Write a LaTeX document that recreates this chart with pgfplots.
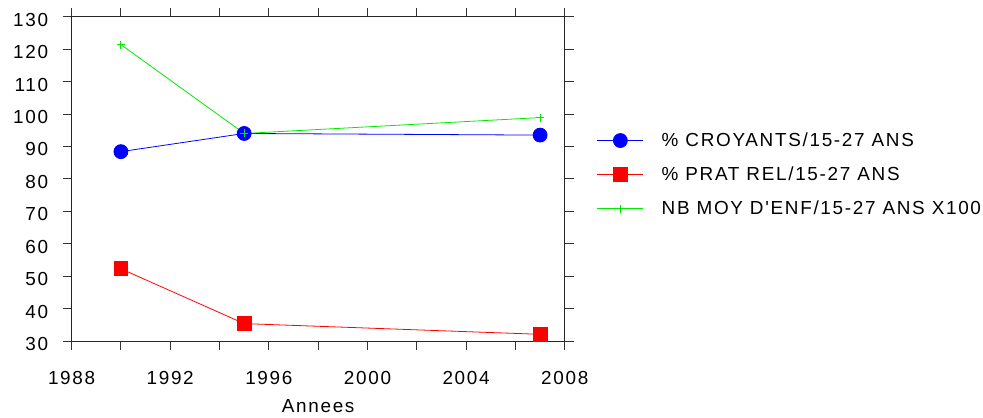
\documentclass[border=0pt]{standalone}
\usepackage{pgfplots}
\pgfplotsset{compat=1.18}
\usepackage{fontspec}
\setmainfont[LetterSpace=9,Ligatures=TeXOff]{Liberation Sans}

\definecolor{pblue}{RGB}{0,0,255}
\definecolor{pred}{RGB}{255,0,0}
\definecolor{pgreen}{RGB}{0,235,0}

\begin{document}
\begin{tikzpicture}[x=1bp,y=1bp]
\begin{axis}[
    at={(0,0)}, anchor=south west,
    scale only axis,
    width=494bp, height=325bp,
    xmin=1988, xmax=2008,
    ymin=30, ymax=130,
    xtick={1988,1990,...,2008},
    xticklabels={1988,,1992,,1996,,2000,,2004,,2008},
    minor x tick num=1,
    ytick={30,40,...,130},
    yticklabels={30,40,50,60,70,80,90,100,110,120,130},
    yticklabel style={anchor=east, xshift=-11bp, yshift=-3bp},
    tick align=outside,
    major tick length=9bp,
    minor tick length=5bp,
    tick style={black!80, line width=0.9pt},
    axis line style={black!85, line width=1pt},
    tick label style={font=\fontsize{19}{19}\selectfont},
    xticklabel style={yshift=-18bp},
    xlabel={Annees},
    xlabel style={font=\fontsize{19}{19}\selectfont,
        at={(axis description cs:0.5,0)}, anchor=center, yshift=-65bp},
    legend cell align=left,
    legend style={
        at={(1.065,0.513)}, anchor=west,
        draw=none, fill=none, inner sep=0pt,
        font=\fontsize{19}{19}\selectfont,
        row sep=15bp,
    },
    legend image code/.code={
        \draw[mark repeat=2,mark phase=2,#1] plot coordinates {(0bp,0bp) (23bp,0bp) (46bp,0bp)};
        \path (62bp,0bp);
    },
]

\addplot[color=pblue, line width=0.8pt, mark=*, mark size=7bp] coordinates {
    (1990, 88.4)
    (1995, 94.0)
    (2007, 93.5)
};
\addlegendentry{\% CROYANTS/15-27 ANS}

\addplot[color=pred, line width=0.8pt, mark=square*, mark size=7bp] coordinates {
    (1990, 52.3)
    (1995, 35.4)
    (2007, 32.1)
};
\addlegendentry{\% PRAT REL/15-27 ANS}

\addplot[color=pgreen, line width=0.8pt, mark=+, mark size=4bp,
    mark options={pgreen, line width=0.8pt}] coordinates {
    (1990, 121.4)
    (1995, 94.0)
    (2007, 98.9)
};
\addlegendentry{NB MOY D'ENF/15-27 ANS X100}

\end{axis}
\path[use as bounding box] (-71.7bp,-76.3bp) rectangle (911.3bp,341.7bp);
\end{tikzpicture}
\end{document}
